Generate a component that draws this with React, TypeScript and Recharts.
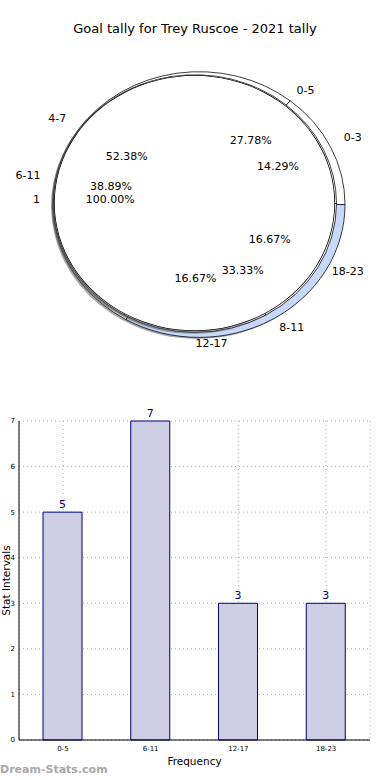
import React from 'react';
import {
  PieChart,
  Pie,
  Cell,
  BarChart,
  Bar,
  XAxis,
  YAxis,
  CartesianGrid,
  LabelList,
} from 'recharts';

// outer ring: 4-hour buckets
const quarterLabels = ['0-3', '4-7', '8-11'];
const quarterCounts = [3, 11, 7];
const quarterColors = ['#ffffff', '#ffffff', '#c6d9fb'];

// middle ring: 6-hour intervals (also used by the bar chart)
const intervalLabels = ['0-5', '6-11', '12-17', '18-23'];
const intervalCounts = [5, 7, 3, 3];

// inner disk: single total
const totalLabels = ['1'];
const totalCounts = [1];

const yTicks = [0, 1, 2, 3, 4, 5, 6, 7];

const quarterData = quarterLabels.map((name, i) => ({ name, value: quarterCounts[i] }));
const intervalData = intervalLabels.map((name, i) => ({ name, value: intervalCounts[i] }));
const totalData = totalLabels.map((name, i) => ({ name, value: totalCounts[i] }));
const barData = intervalLabels.map((interval, i) => ({ interval, count: intervalCounts[i] }));

const FONT = '"DejaVu Sans", sans-serif';
const SQUASH = 0.91; // pie is drawn as an ellipse in the original

// label positions follow the ellipse (matplotlib labeldistance 1.1, pctdistance 0.6)
const renderLabel = (props: any) => {
  const { cx, cy, midAngle, outerRadius, percent, name } = props;
  const a = (-midAngle * Math.PI) / 180;
  const c = Math.cos(a);
  const s = Math.sin(a);
  const rx = outerRadius;
  const ry = outerRadius * SQUASH;
  const lift = -4;
  return (
    <g>
      <text
        x={cx + 1.1 * rx * c}
        y={cy + 1.1 * ry * s + lift}
        textAnchor={c > -1e-6 ? 'start' : 'end'}
        dominantBaseline="central"
        fontSize={11}
        fontFamily={FONT}
        fill="#000"
      >
        {name}
      </text>
      <text
        x={cx + 0.6 * rx * c}
        y={cy + 0.6 * ry * s + lift}
        textAnchor="middle"
        dominantBaseline="central"
        fontSize={11}
        fontFamily={FONT}
        fill="#000"
      >
        {(percent * 100).toFixed(2)}%
      </text>
    </g>
  );
};

const sy = (y: number) => 200 + (y - 200) / SQUASH;

export default function App() {
  return (
    <div style={{ position: 'absolute', left: 0, top: 0, width: 390, height: 780, background: '#fff', fontFamily: FONT }}>
      <div style={{ position: 'absolute', top: 21, left: 0, width: 390, textAlign: 'center', fontSize: 13, color: '#000' }}>
        Goal tally for Trey Ruscoe - 2021 tally
      </div>

      {/* disks, squashed vertically */}
      <div style={{ position: 'absolute', top: 0, left: 0, transform: `scaleY(${SQUASH})`, transformOrigin: '0px 200px' }}>
        <PieChart width={390} height={380}>
          <Pie data={quarterData} dataKey="value" nameKey="name" cx={192} cy={sy(201.5)} outerRadius={146}
            fill="#555" fillOpacity={0.5} stroke="none" isAnimationActive={false} />
          <Pie data={quarterData} dataKey="value" nameKey="name" cx={194} cy={sy(200)} outerRadius={146}
            stroke="#000" strokeWidth={0.8} isAnimationActive={false}>
            {quarterData.map((d, i) => (
              <Cell key={d.name} fill={quarterColors[i]} />
            ))}
          </Pie>
          <Pie data={intervalData} dataKey="value" nameKey="name" cx={188} cy={sy(200.5)} outerRadius={141.5}
            fill="#555" fillOpacity={0.5} stroke="none" isAnimationActive={false} />
          <Pie data={intervalData} dataKey="value" nameKey="name" cx={190} cy={sy(199)} outerRadius={141.5}
            fill="#fff" stroke="#000" strokeWidth={0.8} isAnimationActive={false} />
          <Pie data={totalData} dataKey="value" nameKey="name" cx={187.5} cy={sy(200)} outerRadius={140.5}
            fill="#555" fillOpacity={0.5} stroke="none" isAnimationActive={false} />
          <Pie data={totalData} dataKey="value" nameKey="name" cx={189.5} cy={sy(198.5)} outerRadius={140.5}
            fill="#fff" stroke="none" isAnimationActive={false} />
          {/* outline of the single full wedge, without its radius line */}
          <Pie data={totalData} dataKey="value" nameKey="name" cx={189.5} cy={sy(198.5)} innerRadius={139.8}
            outerRadius={140.6} fill="#000" stroke="none" isAnimationActive={false} />
        </PieChart>
      </div>

      {/* labels on top, not squashed */}
      <div style={{ position: 'absolute', top: 0, left: 0 }}>
        <PieChart width={390} height={380}>
          <Pie data={quarterData} dataKey="value" nameKey="name" cx={194} cy={200} outerRadius={146}
            fill="none" stroke="none" label={renderLabel} labelLine={false} isAnimationActive={false} />
          <Pie data={intervalData} dataKey="value" nameKey="name" cx={190.5} cy={199} outerRadius={143}
            fill="none" stroke="none" label={renderLabel} labelLine={false} isAnimationActive={false} />
          <Pie data={totalData} dataKey="value" nameKey="name" cx={189.5} cy={198.5} outerRadius={140.5}
            fill="none" stroke="none" label={renderLabel} labelLine={false} isAnimationActive={false} />
        </PieChart>
      </div>

      {/* frequency bars */}
      <div style={{ position: 'absolute', top: 400, left: 0 }}>
        <BarChart width={390} height={380} data={barData} margin={{ top: 21, right: 20, bottom: 20, left: 0 }}>
          <CartesianGrid strokeDasharray="1 3" stroke="#aaa" />
          <XAxis
            dataKey="interval"
            height={20}
            tick={{ fontSize: 7, fill: '#000', fontFamily: FONT }}
            tickLine={false}
            tickSize={0}
            tickMargin={6}
            axisLine={{ stroke: '#000' }}
            label={{ value: 'Frequency', position: 'insideBottom', offset: -5, fontSize: 10.5, fill: '#000', fontFamily: FONT }}
          />
          <XAxis xAxisId="top" orientation="top" dataKey="interval" height={0} tick={false} tickLine={false}
            axisLine={{ stroke: '#000' }} />
          <YAxis
            width={19}
            domain={[0, 7]}
            ticks={yTicks}
            tick={{ fontSize: 7, fill: '#000', fontFamily: FONT }}
            tickLine={false}
            tickSize={0}
            tickMargin={4}
            axisLine={{ stroke: '#000' }}
            label={{
              content: (p: any) => {
                const vb = p.viewBox;
                const cy = vb.y + vb.height / 2;
                return (
                  <text transform={`translate(6,${cy}) rotate(-90)`} textAnchor="middle"
                    dominantBaseline="central" fontSize={10.5} fontFamily={FONT} fill="#000">
                    Stat Intervals
                  </text>
                );
              },
            }}
          />
          <YAxis yAxisId="right" orientation="right" width={0} domain={[0, 7]} tick={false} tickLine={false}
            axisLine={{ stroke: '#000' }} />
          <Bar dataKey="count" fill="#cdcde4" stroke="#000080" strokeWidth={1} barSize={39} isAnimationActive={false}>
            <LabelList dataKey="count" position="top" offset={4} fill="#000080" fontSize={11} fontFamily={FONT} />
          </Bar>
        </BarChart>
      </div>

      <div style={{ position: 'absolute', left: 0, top: 763, fontSize: 11, fontWeight: 'bold', color: '#a8a8a8' }}>
        Dream-Stats.com
      </div>
    </div>
  );
}
